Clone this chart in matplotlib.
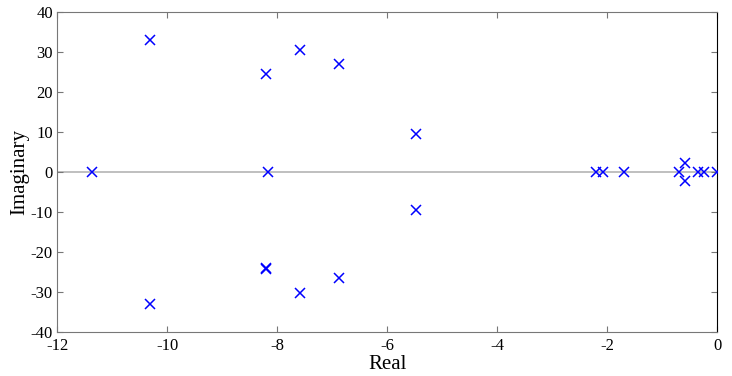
import matplotlib
matplotlib.use("Agg")
import matplotlib.pyplot as plt

real = [-11.36, -10.31, -10.31, -8.2, -8.2, -8.2, -8.16, -7.58, -7.58, -6.87, -6.87,
        -5.47, -5.47, -2.2, -2.07, -1.69, -0.69, -0.58, -0.58, -0.35, -0.25, 0.0]
imag = [0.0, 33.2, -33.0, 24.5, -24.3, -24.1, 0.0, 30.6, -30.3, 27.0, -26.5,
        9.6, -9.4, 0.0, 0.0, 0.0, 0.0, 2.3, -2.2, 0.0, 0.0, 0.0]
xticks = [-12, -10, -8, -6, -4, -2, 0]
yticks = [-40, -30, -20, -10, 0, 10, 20, 30, 40]

plt.rcParams['font.family'] = ['Liberation Serif', 'DejaVu Serif']
plt.rcParams['axes.unicode_minus'] = False
fig = plt.figure(figsize=(7.32, 3.76), dpi=100)
ax = fig.add_axes([0.078, 0.117, 0.902, 0.85])
ax.axhline(0, color='#b4b4b4', lw=1.2, zorder=1)
ax.plot(real, imag, 'x', color='#0000ff', markersize=7, mew=1.1, zorder=3)
ax.set_xlim(-12, 0)
ax.set_ylim(-40, 40)
ax.set_xticks(xticks)
ax.set_yticks(yticks)
ax.tick_params(direction='in', top=True, right=True, labelsize=12, length=4,
               color='#777777', pad=2)
ax.tick_params(axis='x', pad=4)
ax.tick_params(axis='y', pad=3)
for s in ax.spines.values():
    s.set_color('#777777')
ax.spines['right'].set_color('black')
ax.set_xlabel('Real', fontsize=15, labelpad=1)
ax.set_ylabel('Imaginary', fontsize=15, labelpad=1)
fig.savefig('out.png', dpi=100)
